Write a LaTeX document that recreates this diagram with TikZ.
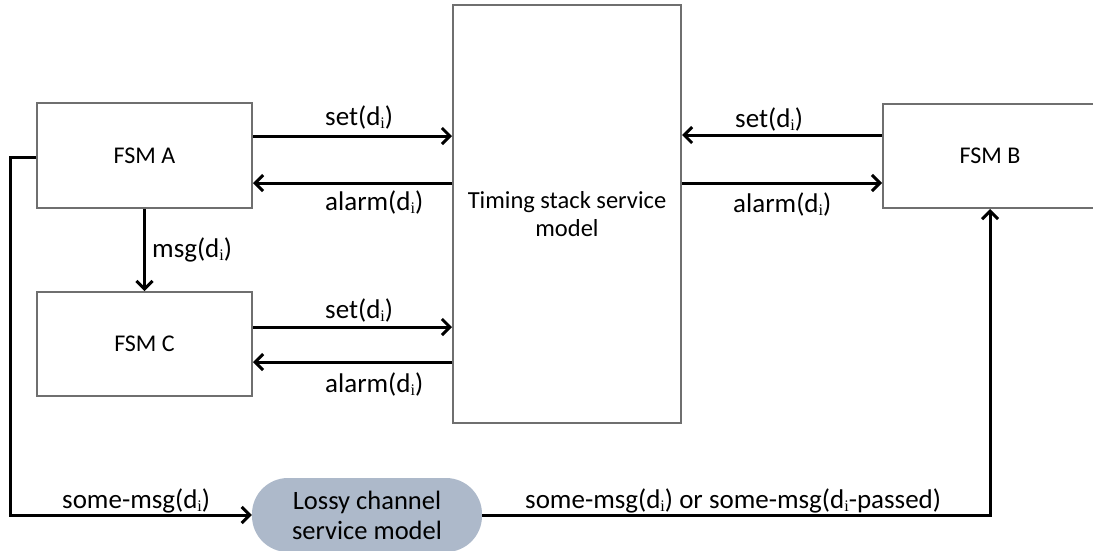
\documentclass[tikz,border=0pt]{standalone}
\usepackage{fontspec}
\setmainfont{Carlito}
\newfontfamily\subfont{Liberation Serif}
\usetikzlibrary{arrows.meta}
\definecolor{boxline}{HTML}{6F6F6F}
\definecolor{lossyfill}{HTML}{ADB9CA}
% d with a small serif subscript i
\newcommand{\di}{d\raisebox{-0.3ex}{\scalebox{0.6}{\subfont i}}}
\begin{document}
\begin{tikzpicture}[x=1pt,y=-1pt,
  fsmbox/.style={draw=boxline,line width=2pt,fill=white,inner sep=0pt,
    font=\fontsize{24}{28}\selectfont},
  conn/.style={line width=3pt,-{Straight Barb[length=8pt,width=16pt]}},
  lbl/.style={inner sep=0pt,anchor=base west,font=\fontsize{27}{30}\selectfont}]
\useasboundingbox (0,0) rectangle (1093,550);
\clip (0,0) rectangle (1093,550);

% machines and service models
\node[fsmbox,minimum width=215pt,minimum height=105pt] (A) at (144.5,155.5) {FSM A};
\node[fsmbox,minimum width=215pt,minimum height=104pt] (C) at (144.5,344) {FSM C};
\node[fsmbox,minimum width=214pt,minimum height=104pt] (B) at (990,156) {FSM B};
\node[fsmbox,minimum width=228pt,minimum height=418pt,align=center,
  font=\fontsize{24.5}{28}\selectfont] (T) at (567,214)
  {Timing stack service\\model};
\node[fill=lossyfill,rounded corners=36pt,minimum width=230pt,minimum height=74pt,
  inner sep=0pt,align=center,font=\fontsize{26.5}{30}\selectfont] (L) at (367,515)
  {Lossy channel\\service model};

% rows of the timer requests
\coordinate (yAset) at (0,136);
\coordinate (yAalarm) at (0,183);
\coordinate (yCset) at (0,327);
\coordinate (yCalarm) at (0,362);
\coordinate (yBset) at (0,135);
\coordinate (yBalarm) at (0,183);
\coordinate (loopcorner) at (10,157);

% FSM A <-> timing stack
\draw[conn] (A.east |- yAset) -- (T.west |- yAset);
\draw[conn] (T.west |- yAalarm) -- (A.east |- yAalarm);
% FSM C <-> timing stack
\draw[conn] (C.east |- yCset) -- (T.west |- yCset);
\draw[conn] (T.west |- yCalarm) -- (C.east |- yCalarm);
% FSM B <-> timing stack
\draw[conn] (B.west |- yBset) -- (T.east |- yBset);
\draw[conn] (T.east |- yBalarm) -- (B.west |- yBalarm);
% FSM A -> FSM C
\draw[conn] (A.south) -- (C.north);
% FSM A -> lossy channel -> FSM B
\draw[conn] (A.west |- loopcorner) -- (loopcorner) |- (L.west);
\draw[conn] (L.east) -| (B.south);

% message labels
\node[lbl] (lAset) at (325,125) {set(\di)};
\node[lbl] (lAalarm) at (325,210) {alarm(\di)};
\node[lbl] (lCset) at (325,318) {set(\di)};
\node[lbl] (lCalarm) at (325,392) {alarm(\di)};
\node[lbl] (lBset) at (735,127) {set(\di)};
\node[lbl] (lBalarm) at (733,212) {alarm(\di)};
\node[lbl] (lmsg) at (152,257) {msg(\di)};
\node[lbl] (lsome) at (62,508) {some-msg(\di)};
\node[lbl] (lpass) at (525,508) {some-msg(\di) or some-msg(\di-passed)};
\end{tikzpicture}
\end{document}
